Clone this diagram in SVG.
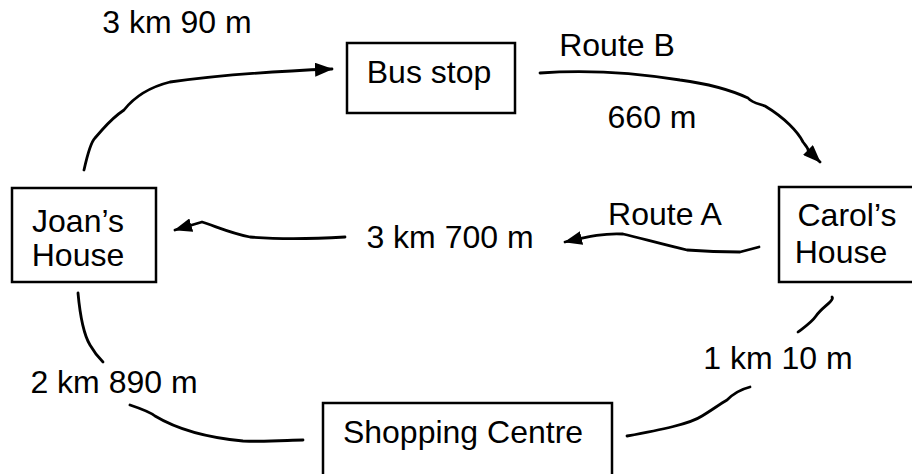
<svg xmlns="http://www.w3.org/2000/svg" width="912" height="474" viewBox="0 0 912 474">
<style>
.box{fill:#fff;stroke:#000;stroke-width:2.5}
.t{font-family:"Liberation Sans",Arial,sans-serif;font-size:32px;fill:#000;text-anchor:middle}
.c{fill:none;stroke:#000;stroke-width:2.8;stroke-linecap:round;stroke-linejoin:round}
</style>
<defs>
<marker id="ah" markerUnits="userSpaceOnUse" markerWidth="18" markerHeight="14" refX="17" refY="7" orient="auto">
<path d="M0,0 L18,7 L0,14 z" fill="#000"/>
</marker>
</defs>
<rect width="912" height="474" fill="#fff"/>
<g id="connectors">
<path class="c" marker-end="url(#ah)" d="M84,170 C88,152 91,142 95,138 L102,130 C110,121 118,114 124,110 C135,96 150,87 170,82 C220,75 280,71 332,69"/>
<path class="c" marker-end="url(#ah)" d="M540,73 C580,70 630,72 680,80 C710,84 735,92 748,98 C752,103 760,104 765,106 C785,118 798,132 803,142 C806,146 808,148 808,150 L820,162"/>
<path class="c" marker-end="url(#ah)" d="M759,247 L740,252 C720,252 700,251 687,250 C665,245 640,238 623,234 C605,233 590,236 565,242"/>
<path class="c" marker-end="url(#ah)" d="M345,237 C310,239 275,239 250,237 C230,233 215,226 202,222 L175,230"/>
<path class="c" d="M78,293 C80,315 84,335 90,345 C94,352 99,358 103,362"/>
<path class="c" d="M130,405 C145,410 150,412 155,416 C175,428 200,437 243,441 C270,442 290,440 303,440"/>
<path class="c" d="M627,436 C660,430 690,424 702,416 C712,410 720,404 727,400 C735,392 742,389 750,387"/>
<path class="c" d="M798,332 C806,326 812,322 816,316 C820,310 826,306 830,302 C832,300 833,298 832,297"/>
</g>
<g id="bus-stop">
<rect class="box" x="347" y="43" width="168" height="70"/>
<text class="t" x="429" y="83">Bus stop</text>
</g>
<g id="joans-house">
<rect class="box" x="12" y="188" width="144" height="94"/>
<text class="t" x="78" y="232">Joan’s</text>
<text class="t" x="78" y="266">House</text>
</g>
<g id="carols-house">
<rect class="box" x="779" y="187" width="140" height="95"/>
<text class="t" x="847" y="226">Carol’s</text>
<text class="t" x="841" y="263">House</text>
</g>
<g id="shopping-centre">
<rect class="box" x="323" y="403" width="289" height="80"/>
<text class="t" x="463" y="443">Shopping Centre</text>
</g>
<g id="labels">
<text class="t" x="177" y="33">3 km 90 m</text>
<text class="t" x="617" y="56">Route B</text>
<text class="t" x="652" y="128">660 m</text>
<text class="t" x="665" y="225">Route A</text>
<text class="t" x="450" y="248">3 km 700 m</text>
<text class="t" x="778" y="369">1 km 10 m</text>
<text class="t" x="114" y="393">2 km 890 m</text>
</g>
</svg>
